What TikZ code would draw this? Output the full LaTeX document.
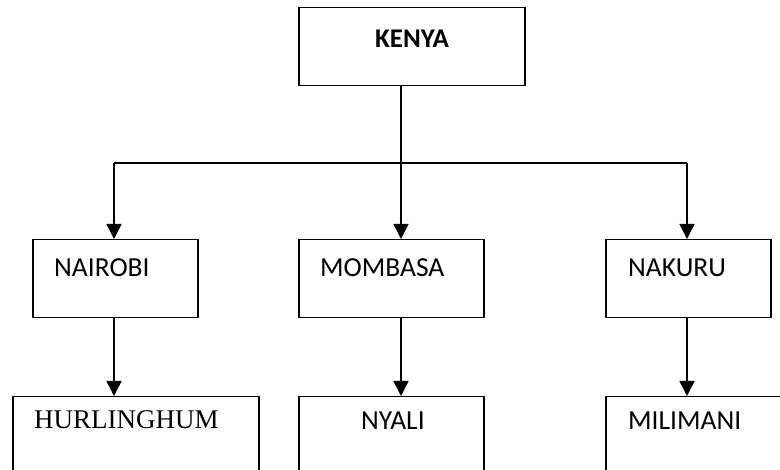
\documentclass[tikz,border=0pt]{standalone}
\usepackage{fontspec}
\setmainfont{Carlito}
\newfontfamily\serifface{Liberation Serif}
\usetikzlibrary{arrows.meta}
\tikzset{
  box/.style={draw=black, line width=1.5pt, rectangle, inner sep=0pt, anchor=north west},
  lbl/.style={anchor=base west, inner sep=0pt, font=\fontsize{27.5}{30}\selectfont},
  conn/.style={line width=1.5pt, draw=black},
  arr/.style={conn, -{Triangle[width=15pt,length=15pt]}}
}
\begin{document}
\begin{tikzpicture}[x=1pt,y=-1pt]
\clip (0,0) rectangle (780,470);
\fill[white] (0,0) rectangle (780,470);
% boxes
\node[box, minimum width=226pt, minimum height=78pt] (kenya) at (298,7) {};
\node[box, minimum width=165pt, minimum height=78pt] (nairobi) at (32,239) {};
\node[box, minimum width=185pt, minimum height=78pt] (mombasa) at (298,239) {};
\node[box, minimum width=165pt, minimum height=78pt] (nakuru) at (605,239) {};
\node[box, minimum width=246pt, minimum height=100pt] (hurl) at (12,396) {};
\node[box, minimum width=185pt, minimum height=100pt] (nyali) at (298,396) {};
\node[box, minimum width=200pt, minimum height=100pt] (mili) at (605,396) {};
% labels
\node[anchor=center, inner sep=0pt, font=\fontsize{27}{30}\selectfont\bfseries] (tk) at (412,39) {KENYA};
\node[lbl] (tn) at (54,277) {NAIROBI};
\node[lbl] (tm) at (320,277) {MOMBASA};
\node[lbl] (tr) at (628,277) {NAKURU};
\node[lbl, font=\fontsize{27}{30}\selectfont\serifface] (th) at (34,429) {HURLINGHUM};
\node[lbl] (ty) at (361,430) {NYALI};
\node[lbl] (ti) at (628,430) {MILIMANI};
% connectors
\coordinate (busL) at (114,163);
\coordinate (busM) at (401,163);
\coordinate (busR) at (687,163);
\draw[conn] (busL) -- (busR);
\draw[conn] (kenya.south -| busM) -- (busM);
\draw[arr] (busL) -- (nairobi.north -| busL);
\draw[arr] (busM) -- (mombasa.north -| busM);
\draw[arr] (busR) -- (nakuru.north -| busR);
\draw[arr] (nairobi.south -| busL) -- (hurl.north -| busL);
\draw[arr] (mombasa.south -| busM) -- (nyali.north -| busM);
\draw[arr] (nakuru.south -| busR) -- (mili.north -| busR);
\end{tikzpicture}
\end{document}
